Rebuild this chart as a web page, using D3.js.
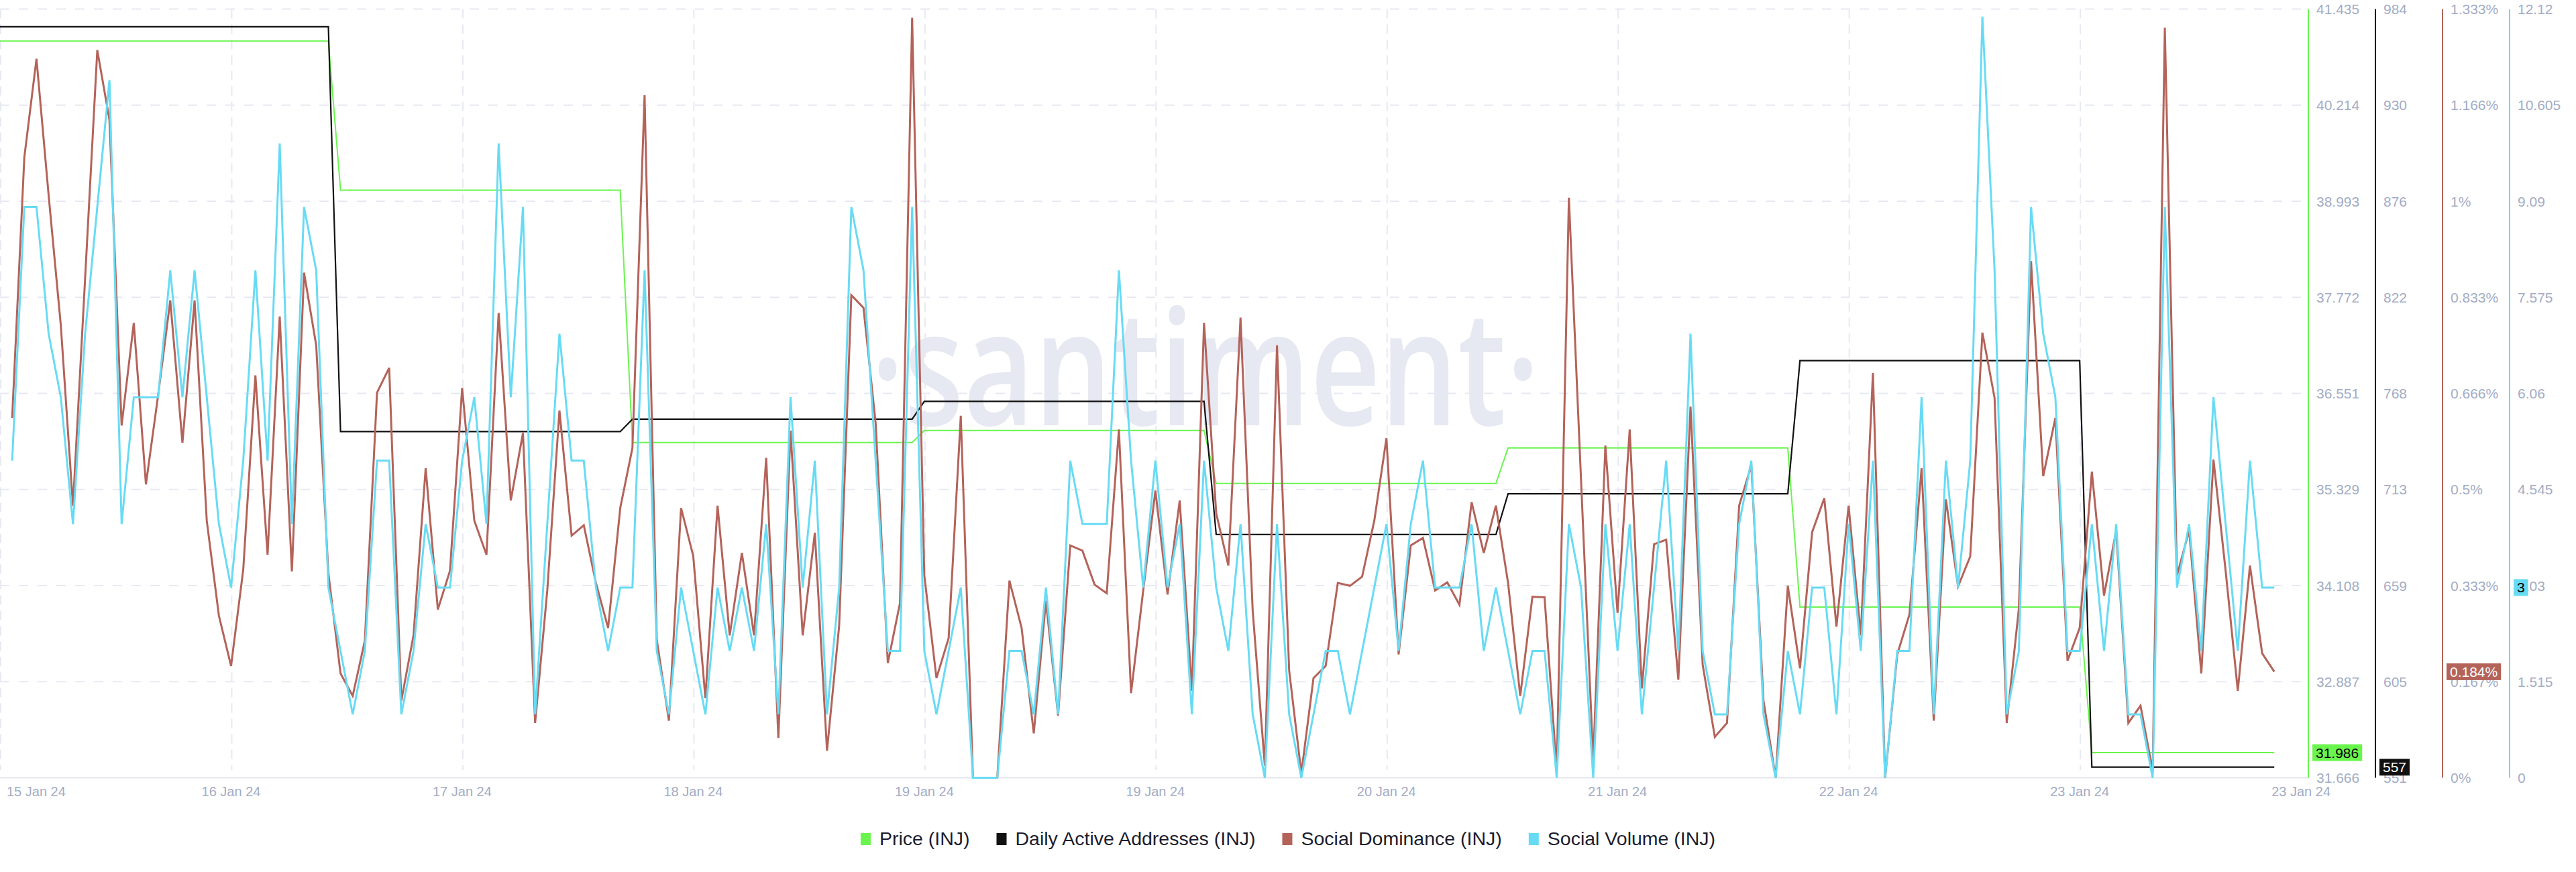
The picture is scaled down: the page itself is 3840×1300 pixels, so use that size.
<!DOCTYPE html>
<html>
<head>
<meta charset="utf-8">
<script src="https://cdn.jsdelivr.net/npm/d3@7"></script>
<style>
  body { margin: 0; background: #fff; }
  svg text { font-family: "Liberation Sans", Arial, sans-serif; }
</style>
</head>
<body>
<svg id="chart" width="3840" height="1300"></svg>
<script>
// hourly series, hour 0 = 15 Jan 22:00 (display time)
const socialVolume = [
  5,9,9,7,6,4,7,9,11,4,6,6,6,8,6,8,6,4,3,5,8,5,10,4,9,8,3,
  2,1,2,5,5,1,2,4,3,3,5,6,4,10,6,9,1,4,7,5,5,3,2,3,3,8,2,
  1,3,2,1,3,2,3,2,4,1,6,3,5,1,3,9,8,5,2,2,9,2,1,2,3,0,0,
  0,2,2,1,3,1,5,4,4,4,8,5,3,5,3,4,1,5,3,2,4,1,0,4,1,0,1,
  2,2,1,2,3,4,2,4,5,3,3,3,4,2,3,2,1,2,2,0,4,3,0,4,2,4,1,
  3,5,2,7,2,1,1,4,5,1,0,2,1,3,3,1,4,2,5,0,2,2,6,1,5,3,5,
  12,8,1,2,9,7,6,2,2,4,2,4,1,1,0,9,3,4,2,6,4,2,5,3,3
];
const socialDominance = [
  0.624,1.076,1.247,1.010,0.785,0.472,0.867,1.262,1.141,0.611,0.789,0.509,0.663,0.828,0.581,0.828,0.446,0.281,0.194,0.361,0.698,0.387,0.800,0.358,0.876,0.750,0.355,
  0.181,0.142,0.238,0.668,0.711,0.134,0.247,0.537,0.292,0.359,0.676,0.446,0.387,0.806,0.481,0.598,0.095,0.325,0.637,0.420,0.438,0.338,0.260,0.468,0.572,1.184,0.240,
  0.099,0.468,0.385,0.138,0.472,0.247,0.390,0.247,0.555,0.069,0.602,0.247,0.425,0.047,0.264,0.837,0.815,0.615,0.199,0.303,1.318,0.351,0.173,0.242,0.628,0,0,
  0,0.342,0.260,0.077,0.307,0.108,0.403,0.394,0.335,0.320,0.604,0.147,0.325,0.498,0.318,0.481,0.151,0.789,0.459,0.368,0.798,0.290,0.021,0.750,0.186,0.008,0.173,
  0.194,0.338,0.333,0.349,0.446,0.589,0.214,0.403,0.416,0.325,0.339,0.300,0.478,0.390,0.472,0.338,0.142,0.314,0.313,0.012,1.006,0.516,0.030,0.576,0.286,0.604,0.155,
  0.405,0.413,0.170,0.644,0.196,0.071,0.095,0.472,0.542,0.134,0,0.333,0.190,0.426,0.485,0.262,0.472,0.247,0.702,0,0.214,0.283,0.537,0.099,0.483,0.332,0.384,
  0.772,0.659,0.095,0.294,0.896,0.523,0.624,0.203,0.260,0.531,0.316,0.429,0.095,0.125,0.012,1.301,0.351,0.429,0.181,0.552,0.359,0.151,0.368,0.216,0.184
];

// daily series (start hour of each day)
const dayStartHours = [-1, 27, 51, 75, 99, 123, 147, 171];
const lastHour = 186;
const priceDaily = [41.028, 39.133, 35.927, 36.080, 35.406, 35.857, 33.835, 31.986];
const activeAddressesDaily = [974, 746, 753, 763, 688, 711, 786, 557];

const xTickHours = [-1, 18, 37, 56, 75, 94, 113, 132, 151, 170, 188.2];
const xTickLabels = ["15 Jan 24","16 Jan 24","17 Jan 24","18 Jan 24","19 Jan 24","19 Jan 24",
                     "20 Jan 24","21 Jan 24","22 Jan 24","23 Jan 24","23 Jan 24"];

const priceTickLabels = ["31.666","32.887","34.108","35.329","36.551","37.772","38.993","40.214","41.435"];
const daaTickLabels = ["551","605","659","713","768","822","876","930","984"];
const domTickLabels = ["0%","0.167%","0.333%","0.5%","0.666%","0.833%","1%","1.166%","1.333%"];
const volTickLabels = ["0","1.515","3.03","4.545","6.06","7.575","9.09","10.605","12.12"];

const legendNames = ["Price (INJ)", "Daily Active Addresses (INJ)", "Social Dominance (INJ)", "Social Volume (INJ)"];

const C = { price: "#6af54e", daa: "#111111", dom: "#b4635a", vol: "#68dbf4",
            tick: "#a3acc5", grid: "#e7e9f2", axisLine: "#e3e6ef" };

const W = 3840, H = 1300;
const plot = { left: 0, right: 3441, top: 13.4, bottom: 1159.6 };
const axisX = [3441, 3541, 3641, 3741];

const svg = d3.select("#chart");
svg.append("rect").attr("width", W).attr("height", H).attr("fill", "#fff");

const x = d3.scaleLinear().domain([-1, 188.8]).range([plot.left, plot.right]);
const yPrice = d3.scaleLinear().domain([31.666, 41.435]).range([plot.bottom, plot.top]);
const yDaa = d3.scaleLinear().domain([551, 984]).range([plot.bottom, plot.top]);
const yDom = d3.scaleLinear().domain([0, 1.3333]).range([plot.bottom, plot.top]);
const yVol = d3.scaleLinear().domain([0, 12.12]).range([plot.bottom, plot.top]);

// watermark
svg.append("text")
  .attr("x", 1298).attr("y", 634)
  .attr("textLength", 997).attr("lengthAdjust", "spacingAndGlyphs")
  .style("font-family", "'Open Sans', sans-serif")
  .style("font-weight", 600)
  .style("font-size", "240px")
  .attr("fill", "#e6e8f2")
  .text("·santiment·");

// grid
const gridFracs = d3.range(9).map(i => i / 8);
const yFrac = d3.scaleLinear().domain([0, 1]).range([plot.bottom, plot.top]);
svg.append("g").selectAll("line").data(gridFracs.slice(1)).join("line")
  .attr("x1", plot.left).attr("x2", plot.right)
  .attr("y1", d => yFrac(d)).attr("y2", d => yFrac(d))
  .attr("stroke", C.grid).attr("stroke-width", 2).attr("stroke-dasharray", "14,14");

svg.append("g").selectAll("line").data(xTickHours.slice(0, 10)).join("line")
  .attr("x1", d => x(d) + 1).attr("x2", d => x(d) + 1)
  .attr("y1", plot.top).attr("y2", 1148)
  .attr("stroke", C.grid).attr("stroke-width", 2).attr("stroke-dasharray", "14,9");

svg.append("line")
  .attr("x1", plot.left).attr("x2", plot.right)
  .attr("y1", plot.bottom).attr("y2", plot.bottom)
  .attr("stroke", C.axisLine).attr("stroke-width", 2);

// x labels
svg.append("g").selectAll("text").data(xTickHours).join("text")
  .attr("x", (d, i) => i === 0 ? x(d) + 10 : x(d))
  .attr("y", 1187)
  .attr("text-anchor", (d, i) => i === 0 ? "start" : "middle")
  .attr("fill", C.tick).style("font-size", "20px")
  .text((d, i) => xTickLabels[i]);

// lines
function stepPoints(values) {
  const pts = [];
  values.forEach((v, i) => {
    const end = i < values.length - 1 ? dayStartHours[i + 1] - 1 : lastHour;
    pts.push([dayStartHours[i], v], [end, v]);
  });
  return pts;
}

svg.append("path")
  .attr("d", d3.line().x(d => x(d[0])).y(d => yPrice(d[1]))(stepPoints(priceDaily)))
  .attr("fill", "none").attr("stroke", C.price).attr("stroke-width", 2);

svg.append("path")
  .attr("d", d3.line().x(d => x(d[0])).y(d => yDaa(d[1]))(stepPoints(activeAddressesDaily)))
  .attr("fill", "none").attr("stroke", C.daa).attr("stroke-width", 2.2);

svg.append("path")
  .attr("d", d3.line().x((d, i) => x(i)).y(d => yDom(d))(socialDominance))
  .attr("fill", "none").attr("stroke", C.dom).attr("stroke-width", 3);

svg.append("path")
  .attr("d", d3.line().x((d, i) => x(i)).y(d => yVol(d))(socialVolume))
  .attr("fill", "none").attr("stroke", C.vol).attr("stroke-width", 3);

// right axes
const axes = [
  { scale: yPrice, labels: priceTickLabels, color: C.price, last: priceDaily[priceDaily.length - 1], fmt: d3.format(".3f"), textColor: "#000" },
  { scale: yDaa, labels: daaTickLabels, color: C.daa, last: activeAddressesDaily[activeAddressesDaily.length - 1], fmt: d => d, textColor: "#fff" },
  { scale: yDom, labels: domTickLabels, color: C.dom, last: socialDominance[socialDominance.length - 1], fmt: d => d3.format(".3f")(d) + "%", textColor: "#fff" },
  { scale: yVol, labels: volTickLabels, color: C.vol, last: socialVolume[socialVolume.length - 1], fmt: d => d, textColor: "#000" }
];

axes.forEach((a, k) => {
  const ax = axisX[k];
  const g = svg.append("g");
  g.append("line")
    .attr("x1", ax).attr("x2", ax).attr("y1", plot.top).attr("y2", plot.bottom)
    .attr("stroke", a.color).attr("stroke-width", 2);
  g.selectAll("text.tick").data(a.labels).join("text")
    .attr("class", "tick")
    .attr("x", ax + 12)
    .attr("y", (d, i) => yFrac(gridFracs[i]))
    .attr("dy", "0.36em")
    .attr("fill", C.tick).style("font-size", "21px")
    .text(d => d);
});

// last value badges
axes.forEach((a, k) => {
  const ax = axisX[k];
  const cy = a.scale(a.last);
  const g = svg.append("g");
  const t = g.append("text")
    .attr("x", ax + 11).attr("y", cy).attr("dy", "0.36em")
    .attr("fill", a.textColor).style("font-size", "21px")
    .text(a.fmt(a.last));
  const w = t.node().getComputedTextLength();
  g.insert("rect", "text")
    .attr("x", ax + 6).attr("y", cy - 12.5)
    .attr("width", w + 10).attr("height", 25)
    .attr("fill", a.color);
});

// legend
const legendColors = [C.price, C.daa, C.dom, C.vol];
const lg = svg.append("g");
const items = legendNames.map((name, i) => {
  const g = lg.append("g");
  g.append("rect").attr("width", 15).attr("height", 18).attr("y", 1242).attr("fill", legendColors[i]);
  const t = g.append("text").attr("x", 28).attr("y", 1260)
    .attr("fill", "#1c1d2e").style("font-size", "28.5px").text(name);
  return { g, w: 28 + t.node().getComputedTextLength() };
});
const gap = 40;
const total = d3.sum(items, d => d.w) + gap * (items.length - 1);
let cx = W / 2 - total / 2;
items.forEach(it => {
  it.g.attr("transform", `translate(${cx},0)`);
  cx += it.w + gap;
});
</script>
</body>
</html>
